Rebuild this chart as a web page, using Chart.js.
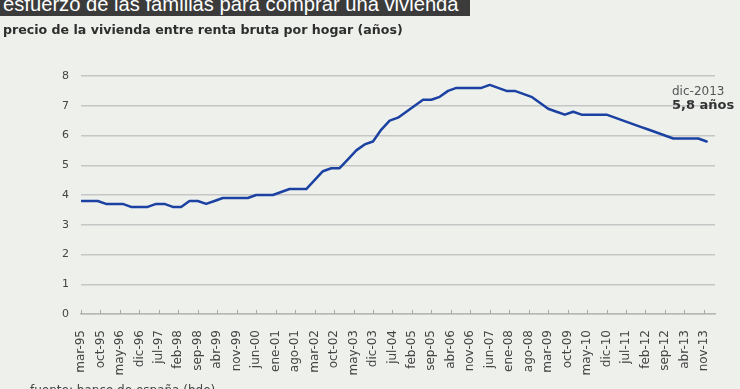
<!DOCTYPE html>
<html><head><meta charset="utf-8">
<script src="https://cdn.jsdelivr.net/npm/chart.js@4"></script>
<style>
html,body{margin:0;padding:0;}
body{width:740px;height:389px;overflow:hidden;background:#eef0eb;position:relative;font-family:"DejaVu Sans",Verdana,sans-serif;}
#bar{position:absolute;left:0;top:0;width:470px;height:16px;background:#3b3b3b;overflow:hidden;}
#title{position:absolute;left:3px;top:-8px;color:#fff;font:20.2px "Liberation Sans",Arial,sans-serif;line-height:24px;white-space:nowrap;}
#sub{position:absolute;left:3px;top:23px;color:#2e2e2e;font-weight:bold;font-size:12.6px;line-height:14px;white-space:nowrap;}
#ann1{position:absolute;left:672px;top:84px;color:#555;font-size:12px;line-height:14px;white-space:nowrap;}
#ann2{position:absolute;left:672px;top:97px;color:#333;font-weight:bold;font-size:13px;line-height:15px;white-space:nowrap;}
#src{position:absolute;left:30px;top:383px;color:#444;font-size:12px;line-height:14px;white-space:nowrap;}
#wrap{position:absolute;left:0;top:0;width:740px;height:389px;}
</style></head>
<body>
<div id="wrap"><canvas id="c" width="740" height="389"></canvas></div>
<div id="bar"><div id="title">esfuerzo de las familias para comprar una vivienda</div></div>
<div id="sub">precio de la vivienda entre renta bruta por hogar (años)</div>
<div id="ann1">dic-2013</div>
<div id="ann2">5,8 años</div>
<div id="src">fuente: banco de españa (bde)</div>
<script>
// quarterly values, mar-95 ... dic-13
const ratio = [
  3.8,3.8,3.8,3.7,3.7,3.7,3.6,3.6,3.6,3.7,3.7,3.6,3.6,3.8,3.8,3.7,3.8,3.9,3.9,3.9,
  3.9,4.0,4.0,4.0,4.1,4.2,4.2,4.2,4.5,4.8,4.9,4.9,5.2,5.5,5.7,5.8,6.2,6.5,6.6,6.8,
  7.0,7.2,7.2,7.3,7.5,7.6,7.6,7.6,7.6,7.7,7.6,7.5,7.5,7.4,7.3,7.1,6.9,6.8,6.7,6.8,
  6.7,6.7,6.7,6.7,6.6,6.5,6.4,6.3,6.2,6.1,6.0,5.9,5.9,5.9,5.9,5.8
];
const monthsPerPoint = 3;
const tickLabels = ['mar-95','oct-95','may-96','dic-96','jul-97','feb-98','sep-98','abr-99','nov-99','jun-00',
  'ene-01','ago-01','mar-02','oct-02','may-03','dic-03','jul-04','feb-05','sep-05','abr-06','nov-06',
  'jun-07','ene-08','ago-08','mar-09','oct-09','may-10','dic-10','jul-11','feb-12','sep-12','abr-13','nov-13'];
const monthsPerTick = 7;
const yTicks = [0,1,2,3,4,5,6,7,8];

const points = ratio.map((v,i)=>({x:i*monthsPerPoint, y:v}));

const upTicks = {
  id:'upTicks',
  afterDraw(chart){
    const xs = chart.scales.x, ctx = chart.ctx, y0 = chart.chartArea.bottom;
    ctx.save();
    ctx.strokeStyle = '#a8a8a8'; ctx.lineWidth = 1;
    ctx.beginPath();
    xs.ticks.forEach(t=>{
      const px = Math.round(xs.getPixelForValue(t.value)) + 0.5;
      ctx.moveTo(px, y0); ctx.lineTo(px, y0-4);
    });
    ctx.stroke();
    ctx.restore();
  }
};

new Chart(document.getElementById('c'), {
  type:'line',
  data:{datasets:[{data:points, borderColor:'#1b42a2', borderWidth:2.5, pointRadius:0, tension:0, borderJoinStyle:'round', borderCapStyle:'round', fill:false}]},
  options:{
    responsive:false, animation:false,
    layout:{padding:{top:76,right:25,bottom:0,left:0}},
    plugins:{legend:{display:false}, tooltip:{enabled:false}},
    scales:{
      x:{type:'linear', min:0, max:228,
        afterBuildTicks:(s)=>{ s.ticks = tickLabels.map((l,i)=>({value:i*monthsPerTick})); },
        afterFit:(s)=>{ s.height = 75; },
        grid:{display:false},
        border:{display:true, color:'#b8b8b8', width:1.5},
        ticks:{autoSkip:false, maxRotation:90, minRotation:90, padding:8, color:'#444',
          font:{family:'"DejaVu Sans"', size:12},
          callback:(v,i)=>tickLabels[i]}
      },
      y:{min:0, max:8,
        afterBuildTicks:(s)=>{ s.ticks = yTicks.map(v=>({value:v})); },
        afterFit:(s)=>{ s.width = 81; },
        grid:{color:'#c6c6c6', lineWidth:1.5, drawTicks:false},
        border:{display:false},
        ticks:{padding:12, color:'#444', font:{family:'"DejaVu Sans"', size:11}}
      }
    }
  },
  plugins:[upTicks]
});
</script>
</body></html>
